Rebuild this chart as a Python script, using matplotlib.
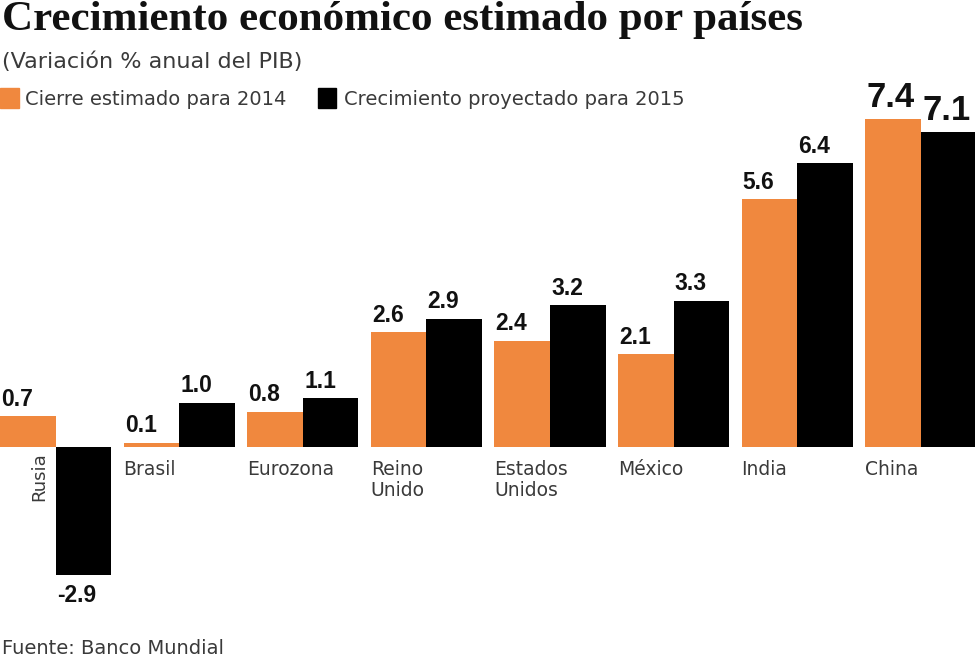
import numpy as np
import matplotlib.pyplot as plt

# datos: variacion % anual del PIB
paises = ['Rusia', 'Brasil', 'Eurozona', 'Reino\nUnido', 'Estados\nUnidos', 'México', 'India', 'China']
cierre_2014 = [0.7, 0.1, 0.8, 2.6, 2.4, 2.1, 5.6, 7.4]
proy_2015 = [-2.9, 1.0, 1.1, 2.9, 3.2, 3.3, 6.4, 7.1]

naranja = '#F0883E'
gris = '#3a3a3a'
sans = ['DejaVu Sans']
bold_font = ['Liberation Sans', 'DejaVu Sans']

fig = plt.figure(figsize=(9.75, 6.66), dpi=100)
ax = fig.add_axes([0, 0, 1, 1])

x = np.arange(len(paises))
w = 0.45
ax.bar(x, cierre_2014, w, align='edge', color=naranja)
ax.bar(x + w, proy_2015, w, align='edge', color='black')

ax.set_xlim(0, 975 / 123.6)
ax.set_ylim(-219 / 44.3, 447 / 44.3)
ax.axis('off')

# etiquetas de valor
for i in range(len(paises)):
    big = paises[i] == 'China'
    fs = 25 if big else 16.5
    for xx, v in [(x[i], cierre_2014[i]), (x[i] + w, proy_2015[i])]:
        off = 0.12 if v >= 0 else -0.2
        ax.text(xx + 0.01, v + off, f'{v:.1f}', ha='left',
                va='bottom' if v >= 0 else 'top', fontsize=fs,
                fontweight='bold', family=bold_font, color='#111111')

# nombres de paises
for i, p in enumerate(paises):
    if p == 'Rusia':
        ax.text(x[i] + w - 0.06, -0.12, p, rotation=90, ha='right', va='top',
                fontsize=13, family=sans, color=gris)
    else:
        ax.text(x[i] + 0.0, -0.3, p, ha='left', va='top', fontsize=13.5,
                family=sans, color=gris, linespacing=1.1)

# titulo, subtitulo, leyenda, fuente
fig.text(0.002, 0.955, 'Crecimiento económico estimado por países', fontsize=31,
         fontweight='bold', family=['Liberation Serif', 'DejaVu Serif'],
         color='#111111', va='baseline')
fig.text(0.002, 0.898, '(Variación % anual del PIB)', fontsize=16, family=sans,
         color=gris, va='baseline')

fig.patches.append(plt.Rectangle((0.0, 0.838), 0.019, 0.03, color=naranja,
                                 transform=fig.transFigure, figure=fig))
fig.text(0.026, 0.843, 'Cierre estimado para 2014', fontsize=14, family=sans,
         color=gris, va='baseline')
fig.patches.append(plt.Rectangle((0.326, 0.838), 0.019, 0.03, color='black',
                                 transform=fig.transFigure, figure=fig))
fig.text(0.353, 0.843, 'Crecimiento proyectado para 2015', fontsize=14,
         family=sans, color=gris, va='baseline')

fig.text(0.002, 0.018, 'Fuente: Banco Mundial', fontsize=14, family=sans,
         color=gris, va='baseline')

fig.savefig('out.png', dpi=100)
